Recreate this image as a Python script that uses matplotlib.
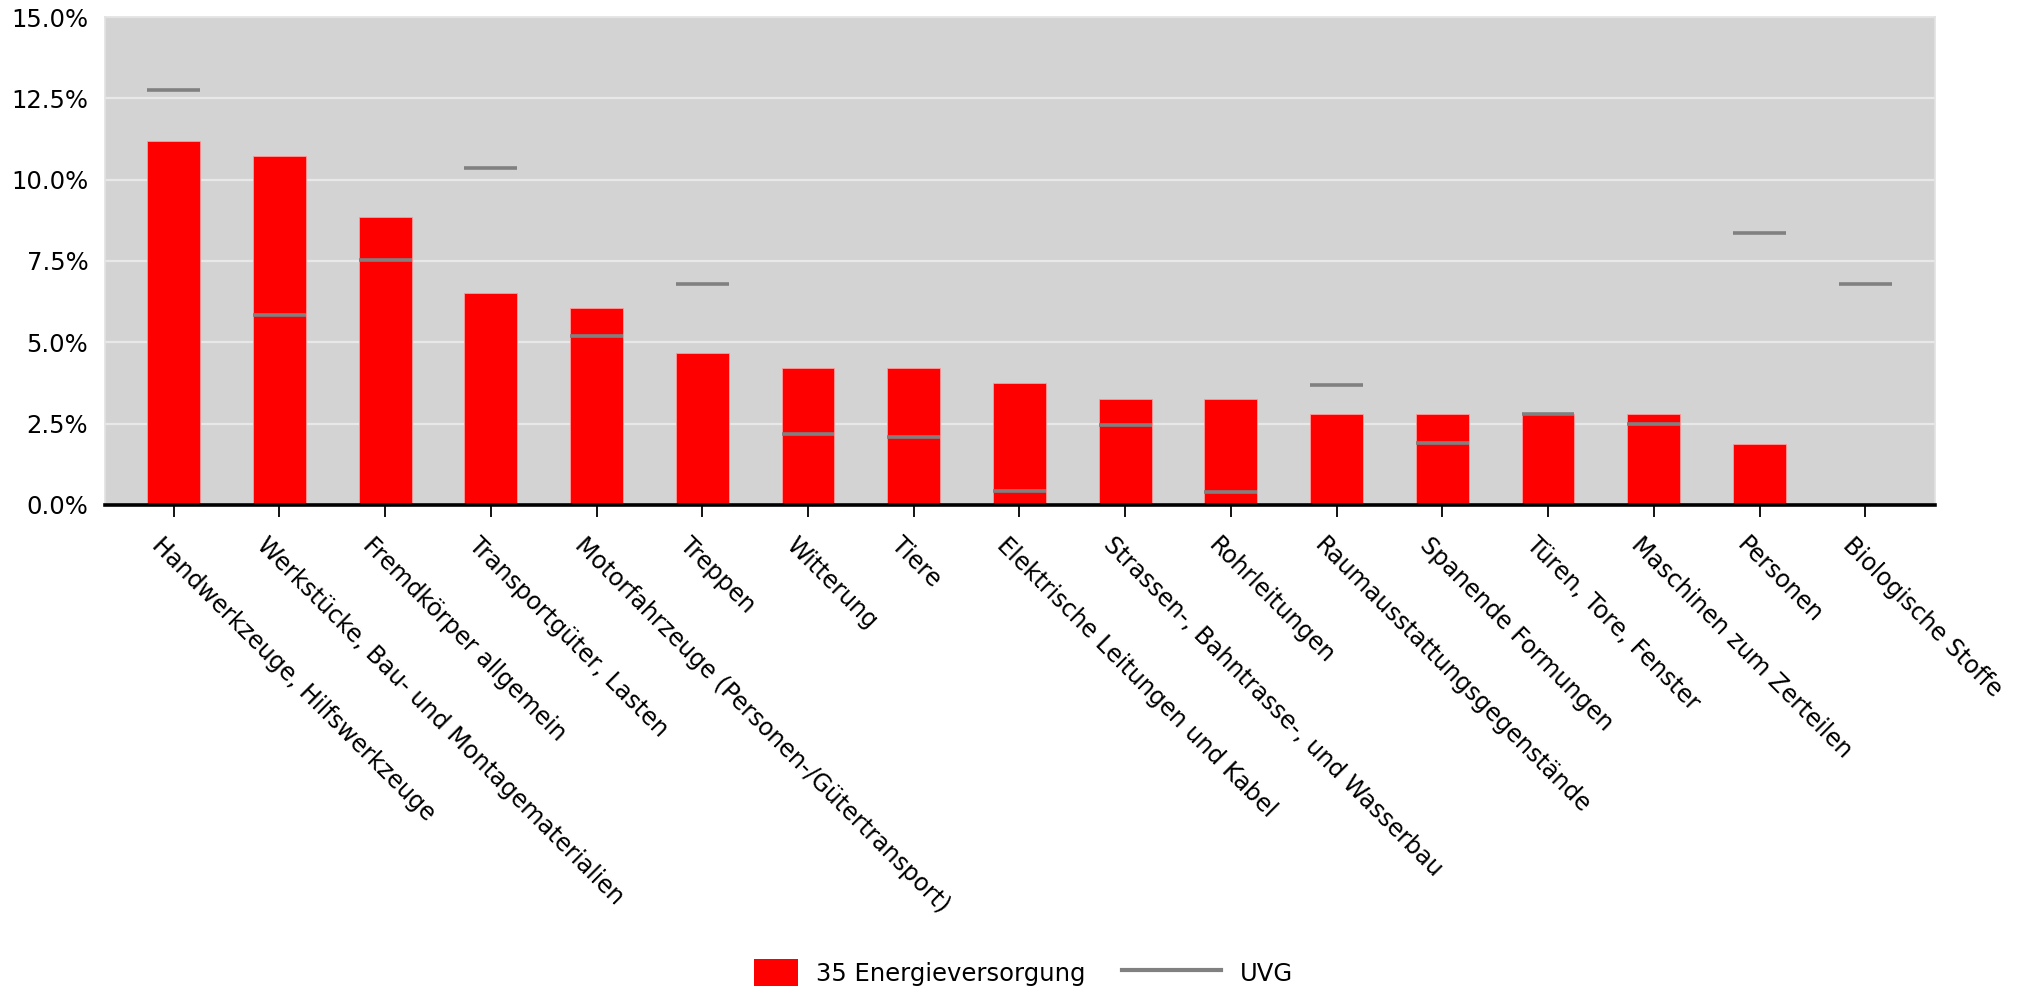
import matplotlib
matplotlib.use("Agg")
import matplotlib.pyplot as plt
from matplotlib.patches import Rectangle
from matplotlib.lines import Line2D
from matplotlib.legend_handler import HandlerPatch
from matplotlib.transforms import ScaledTranslation
import numpy as np

# data (percent)
categories = [
    "Handwerkzeuge, Hilfswerkzeuge",
    "Werkstücke, Bau- und Montagematerialien",
    "Fremdkörper allgemein",
    "Transportgüter, Lasten",
    "Motorfahrzeuge (Personen-/Gütertransport)",
    "Treppen",
    "Witterung",
    "Tiere",
    "Elektrische Leitungen und Kabel",
    "Strassen-, Bahntrasse-, und Wasserbau",
    "Rohrleitungen",
    "Raumausstattungsgegenstände",
    "Spanende Formungen",
    "Türen, Tore, Fenster",
    "Maschinen zum Zerteilen",
    "Personen",
    "Biologische Stoffe",
]
energie = [11.20, 10.74, 8.84, 6.53, 6.06, 4.66, 4.20, 4.20, 3.75, 3.27,
           3.27, 2.80, 2.80, 2.80, 2.80, 1.88, 0.0]
uvg = [12.77, 5.83, 7.52, 10.36, 5.19, 6.80, 2.19, 2.08, 0.44, 2.45,
       0.40, 3.70, 1.89, 2.81, 2.50, 8.35, 6.80]
yticks = [0, 2.5, 5.0, 7.5, 10.0, 12.5, 15.0]

plt.rcParams['font.family'] = ['DejaVu Sans']
FS = 17.5

fig = plt.figure(figsize=(20.23, 9.89), dpi=100, facecolor='white')
ax = fig.add_axes([0.0519, 0.4894, 0.9046, 0.4934])
ax.set_facecolor('#d3d3d3')

x = np.arange(len(categories))
bw = 0.5
ax.bar(x, energie, width=bw, color='#ff0000', edgecolor='#ff9a9a',
       linewidth=0.6, zorder=3, label='35 Energieversorgung')
ax.hlines(uvg, x - bw / 2, x + bw / 2, color='#808080', linewidth=2.6,
          zorder=4, label='UVG')

ax.set_xlim(-0.65, len(categories) - 1 + 0.66)
ax.set_ylim(0, 15)
ax.set_yticks(yticks)
ax.set_yticklabels([f"{v:.1f}%" for v in yticks], fontsize=FS)
ax.yaxis.grid(True, color='#e8e8e8', linewidth=1.6, zorder=1)
ax.set_axisbelow(True)

for side in ['left', 'right', 'top']:
    ax.spines[side].set_color('#e2e2e2')
    ax.spines[side].set_linewidth(1.2)
ax.spines['bottom'].set_color('black')
ax.spines['bottom'].set_linewidth(2.6)
ax.spines['bottom'].set_zorder(5)

ax.tick_params(axis='y', length=0, pad=12)
ax.tick_params(axis='x', direction='out', length=8.6, width=1.3,
               color='black', pad=11.5)
ax.set_xticks(x)
ax.set_xticklabels(categories, fontsize=17.2, rotation=-45,
                   ha='left', va='top', rotation_mode='anchor')
shift = ScaledTranslation(-10 / 100, 0, fig.dpi_scale_trans)
for lab in ax.get_xticklabels():
    lab.set_transform(lab.get_transform() + shift)


def small_box(legend, orig_handle, xdescent, ydescent, width, height, fontsize):
    w = height * 1.65
    return Rectangle((width - w - xdescent, -ydescent), w, height)


h_bar = Rectangle((0, 0), 1, 1, facecolor='#ff0000', edgecolor='none')
h_line = Line2D([0], [0], color='#808080', linewidth=3.0)
fig.legend([h_bar, h_line], ['35 Energieversorgung', 'UVG'],
           handler_map={h_bar: HandlerPatch(patch_func=small_box)},
           loc='center', bbox_to_anchor=(0.492, 0.0165), ncol=2,
           frameon=False, fontsize=FS, handlelength=4.1, handleheight=1.3,
           handletextpad=0.75, columnspacing=1.5)

plt.savefig("out.png", dpi=100, facecolor='white')
